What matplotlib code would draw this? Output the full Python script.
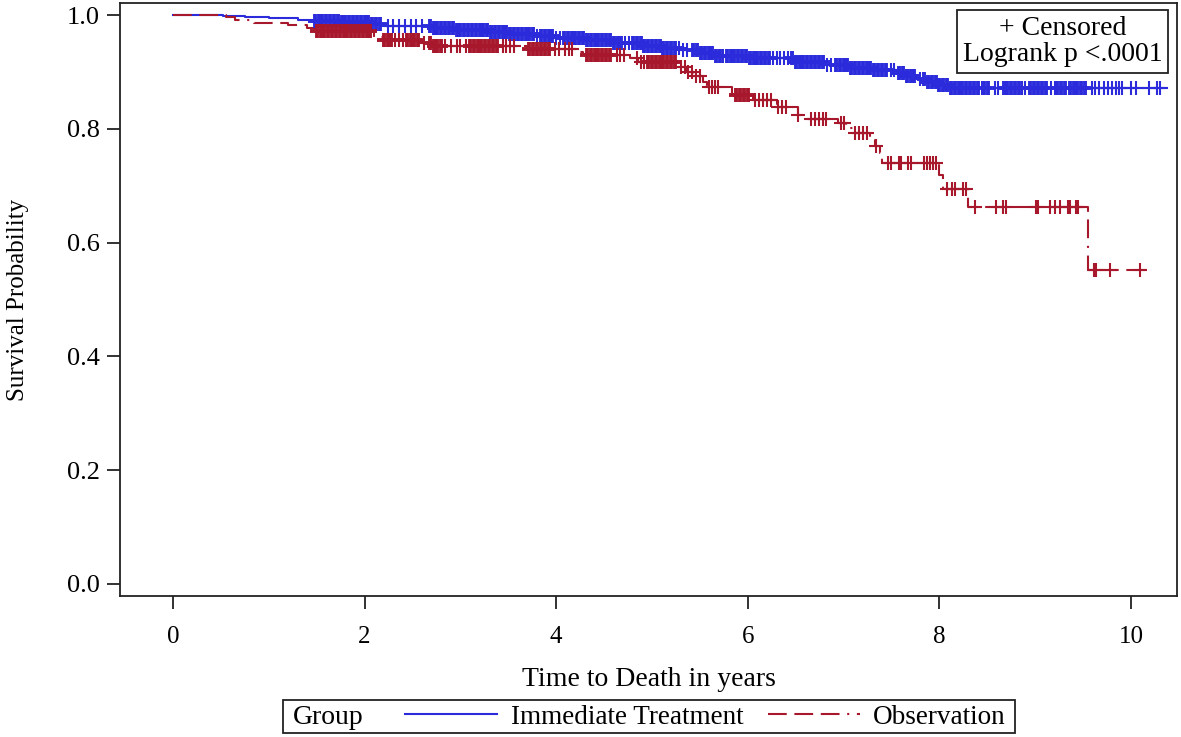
import matplotlib
matplotlib.use("Agg")
import matplotlib.pyplot as plt
import numpy as np
from matplotlib.lines import Line2D
from matplotlib.patches import Rectangle

plt.rcParams['font.family'] = ['Liberation Serif', 'DejaVu Serif']
plt.rcParams['lines.scale_dashes'] = False

# Kaplan-Meier steps (time in years, survival after the drop)
blue_times = [0, 0.52, 0.75, 1.0, 1.3, 1.45, 1.75, 2.05, 2.2, 2.7, 2.95, 3.3, 3.5,
              3.8, 4.0, 4.3, 4.6, 4.9, 5.1, 5.3, 5.5, 5.65, 6.0, 6.5, 6.8, 7.05,
              7.3, 7.55, 7.65, 7.75, 7.85, 8.0, 8.1]
blue_surv = [1.0, 0.998, 0.996, 0.994, 0.992, 0.990, 0.988, 0.984, 0.980, 0.977,
             0.973, 0.970, 0.967, 0.963, 0.960, 0.956, 0.951, 0.946, 0.942, 0.938,
             0.934, 0.928, 0.924, 0.917, 0.912, 0.907, 0.903, 0.898, 0.893, 0.887,
             0.882, 0.877, 0.872]
blue_end = 10.38

red_times = [0, 0.55, 0.65, 0.85, 1.2, 1.4, 1.48, 2.1, 2.2, 2.6, 2.7, 3.7, 4.22,
             4.28, 4.77, 4.85, 5.29, 5.36, 5.43, 5.53, 5.57, 5.84, 6.05, 6.3, 6.52,
             6.62, 6.94, 7.03, 7.10, 7.28, 7.33, 7.38, 7.40, 8.0, 8.04, 8.30, 9.55]
red_surv = [1.0, 0.996, 0.992, 0.986, 0.983, 0.977, 0.972, 0.962, 0.956, 0.950,
            0.946, 0.941, 0.935, 0.930, 0.924, 0.918, 0.909, 0.900, 0.892, 0.883,
            0.874, 0.859, 0.851, 0.839, 0.824, 0.818, 0.810, 0.801, 0.792, 0.780,
            0.769, 0.757, 0.740, 0.718, 0.695, 0.663, 0.552]
red_end = 10.17

# censored times; "dense" ones sit in the solid blocks
blue_cens_dense = [
    1.48, 1.52, 1.56, 1.60, 1.64, 1.68, 1.72, 1.76, 1.80, 1.84, 1.88, 1.92, 1.96,
    2.00, 2.04, 2.08, 2.12, 2.16,
    2.68, 2.72, 2.76, 2.80, 2.84, 2.88, 2.92, 2.96, 3.00, 3.04, 3.08, 3.12, 3.16,
    3.20, 3.24, 3.28, 3.32, 3.36, 3.40, 3.44, 3.48, 3.52, 3.56, 3.60, 3.64, 3.68,
    3.72, 3.76,
    3.84, 3.88, 3.92, 3.96,
    4.08, 4.12, 4.16, 4.20, 4.24, 4.28, 4.32, 4.36, 4.40, 4.44, 4.48, 4.52, 4.56,
    4.60, 4.64, 4.68,
    4.80, 4.84, 4.88, 4.92, 4.96, 5.00, 5.04, 5.08, 5.12, 5.16, 5.20, 5.24,
    5.43, 5.47, 5.51, 5.55, 5.59, 5.63, 5.67, 5.71,
    5.78, 5.82, 5.86, 5.90, 5.94, 5.98, 6.02, 6.06,
    6.10, 6.14, 6.18, 6.22,
    6.46, 6.50,
    6.54, 6.58, 6.62, 6.66, 6.70, 6.74, 6.78,
    6.92, 6.96, 7.00, 7.04, 7.08, 7.12, 7.16, 7.20, 7.24, 7.28, 7.32, 7.36, 7.40,
    7.44,
    7.58, 7.62, 7.66, 7.70, 7.74,
    7.84, 7.88, 7.92, 7.96, 8.00, 8.04, 8.08, 8.12, 8.16, 8.20, 8.24, 8.28, 8.32,
    8.36, 8.40,
    8.47, 8.51,
    8.67, 8.71, 8.75, 8.79, 8.83,
    8.95, 8.99, 9.03, 9.07, 9.11,
    9.23, 9.27, 9.31,
    9.36, 9.40, 9.44, 9.48, 9.52]
blue_cens_sparse = [2.24, 2.30, 2.36, 2.42, 2.48, 2.54, 2.60, 3.80, 4.00, 4.04,
                    4.72, 4.76, 5.28, 5.32, 5.37, 5.74, 6.26, 6.30, 6.34, 6.38,
                    6.42, 6.83, 6.87, 7.49, 7.53, 7.80, 8.44, 8.58, 8.61, 8.86,
                    8.89, 9.17, 9.21, 9.59, 9.62, 9.67, 9.72, 9.76, 9.80, 9.84,
                    9.87, 9.91, 10.00, 10.05, 10.19, 10.27, 10.30]

red_cens_dense = [
    1.50, 1.54, 1.58, 1.62, 1.66, 1.70, 1.74, 1.78, 1.82, 1.86, 1.90, 1.94, 1.98,
    2.02, 2.06,
    2.20, 2.24, 2.28,
    2.44, 2.48, 2.52, 2.56,
    2.68, 2.72, 2.76, 2.80,
    3.10, 3.14, 3.18, 3.22, 3.26, 3.30, 3.34, 3.38,
    3.72, 3.76, 3.80, 3.84, 3.88, 3.92,
    4.32, 4.36, 4.40, 4.44, 4.48, 4.52, 4.56,
    4.96, 5.00, 5.04, 5.08, 5.12, 5.16, 5.20, 5.24,
    5.88, 5.92, 5.96, 6.00]
red_cens_sparse = [2.32, 2.36, 2.40, 2.62, 2.84, 2.90, 2.96, 3.00, 3.06, 3.44,
                   3.48, 3.52, 3.56, 3.99, 4.03, 4.09, 4.13, 4.17, 4.63, 4.67,
                   4.71, 4.84, 4.88, 4.92, 5.30, 5.34, 5.38, 5.42, 5.46, 5.50,
                   5.59, 5.63, 5.66, 5.69, 6.08, 6.12, 6.16, 6.20, 6.24, 6.32,
                   6.36, 6.40, 6.52, 6.66, 6.70, 6.74, 6.78, 6.82, 6.97, 7.00,
                   7.12, 7.16, 7.20, 7.24, 7.34, 7.46, 7.49, 7.58, 7.60, 7.67,
                   7.70, 7.84, 7.87, 7.90, 7.93, 7.96, 8.08, 8.13, 8.16, 8.25,
                   8.28, 8.37, 8.59, 8.66, 8.69, 9.01, 9.03, 9.15, 9.21, 9.26,
                   9.34, 9.36, 9.43, 9.45, 9.61, 9.63, 9.78, 10.09]

BLUE = '#2b2bdc'
RED = '#a8182c'
RED_DASH = (13.5, 5.5, 13.5, 5.5, 13.5, 5.5, 1.5, 5.5)


def surv_at(times, surv, t):
    idx = np.searchsorted(times, t, side='right') - 1
    return np.asarray(surv)[idx]


def km_curve(ax, times, surv, end, cens_dense, cens_sparse, color, dashes=None):
    x = list(times) + [end]
    y = list(surv) + [surv[-1]]
    line, = ax.step(x, y, where='post', color=color, lw=1.5, zorder=3)
    if dashes is not None:
        line.set_dashes(dashes)
    for cens, mew in ((cens_dense, 2.8), (cens_sparse, 1.5)):
        ax.plot(cens, surv_at(times, surv, cens), ls='none', marker='+',
                ms=10, mew=mew, color=color, zorder=4)


fig = plt.figure(figsize=(11.81, 7.37), dpi=100)
ax = fig.add_axes([120 / 1181, 1 - 596 / 737, 1057 / 1181, 593 / 737])

km_curve(ax, blue_times, blue_surv, blue_end, blue_cens_dense, blue_cens_sparse, BLUE)
km_curve(ax, red_times, red_surv, red_end, red_cens_dense, red_cens_sparse, RED,
         dashes=RED_DASH)

ax.set_xlim(-0.553, 10.48)
ax.set_ylim(-0.0211, 1.0211)
ax.set_xticks([0, 2, 4, 6, 8, 10])
ax.set_yticks([0.0, 0.2, 0.4, 0.6, 0.8, 1.0])
ax.set_yticklabels(['0.0', '0.2', '0.4', '0.6', '0.8', '1.0'])
ax.tick_params(axis='both', direction='out', length=9.5, width=1.3, color='#222222')
ax.tick_params(axis='y', labelsize=19, pad=5)
ax.tick_params(axis='x', labelsize=18, pad=12)
for s in ax.spines.values():
    s.set_linewidth(1.3)
    s.set_color('#222222')

ax.set_xlabel('Time to Death in years', fontsize=20, labelpad=14)
ax.set_ylabel('Survival Probability', fontsize=18, va='top')
ax.yaxis.set_label_coords(-0.107, 0.5)

ax.text(0.8915, 0.935, '+ Censored\nLogrank p <.0001', transform=ax.transAxes,
        ha='center', va='center', fontsize=20, linespacing=1.1,
        bbox=dict(boxstyle='square,pad=0.2', fc='white', ec='#222222', lw=1.3))

# bottom group legend
fig.add_artist(Rectangle((283 / 1181, 1 - 733 / 737), 732 / 1181, 33 / 737,
                         transform=fig.transFigure, fill=False, ec='#222222', lw=1.3))
fig.text(293 / 1181, 1 - 717 / 737, 'Group', ha='left', va='center', fontsize=20)
h_blue = Line2D([], [], color=BLUE, lw=1.5)
h_red = Line2D([], [], color=RED, lw=1.5, dashes=RED_DASH)
fig.legend([h_blue, h_red], ['Immediate Treatment', 'Observation'], ncol=2,
           loc='center left', bbox_to_anchor=(405 / 1181, 1 - 717 / 737),
           frameon=False, fontsize=19.5, handlelength=3.4, handletextpad=0.5,
           columnspacing=0.9, borderpad=0, borderaxespad=0)

fig.savefig('out.png', dpi=100)
